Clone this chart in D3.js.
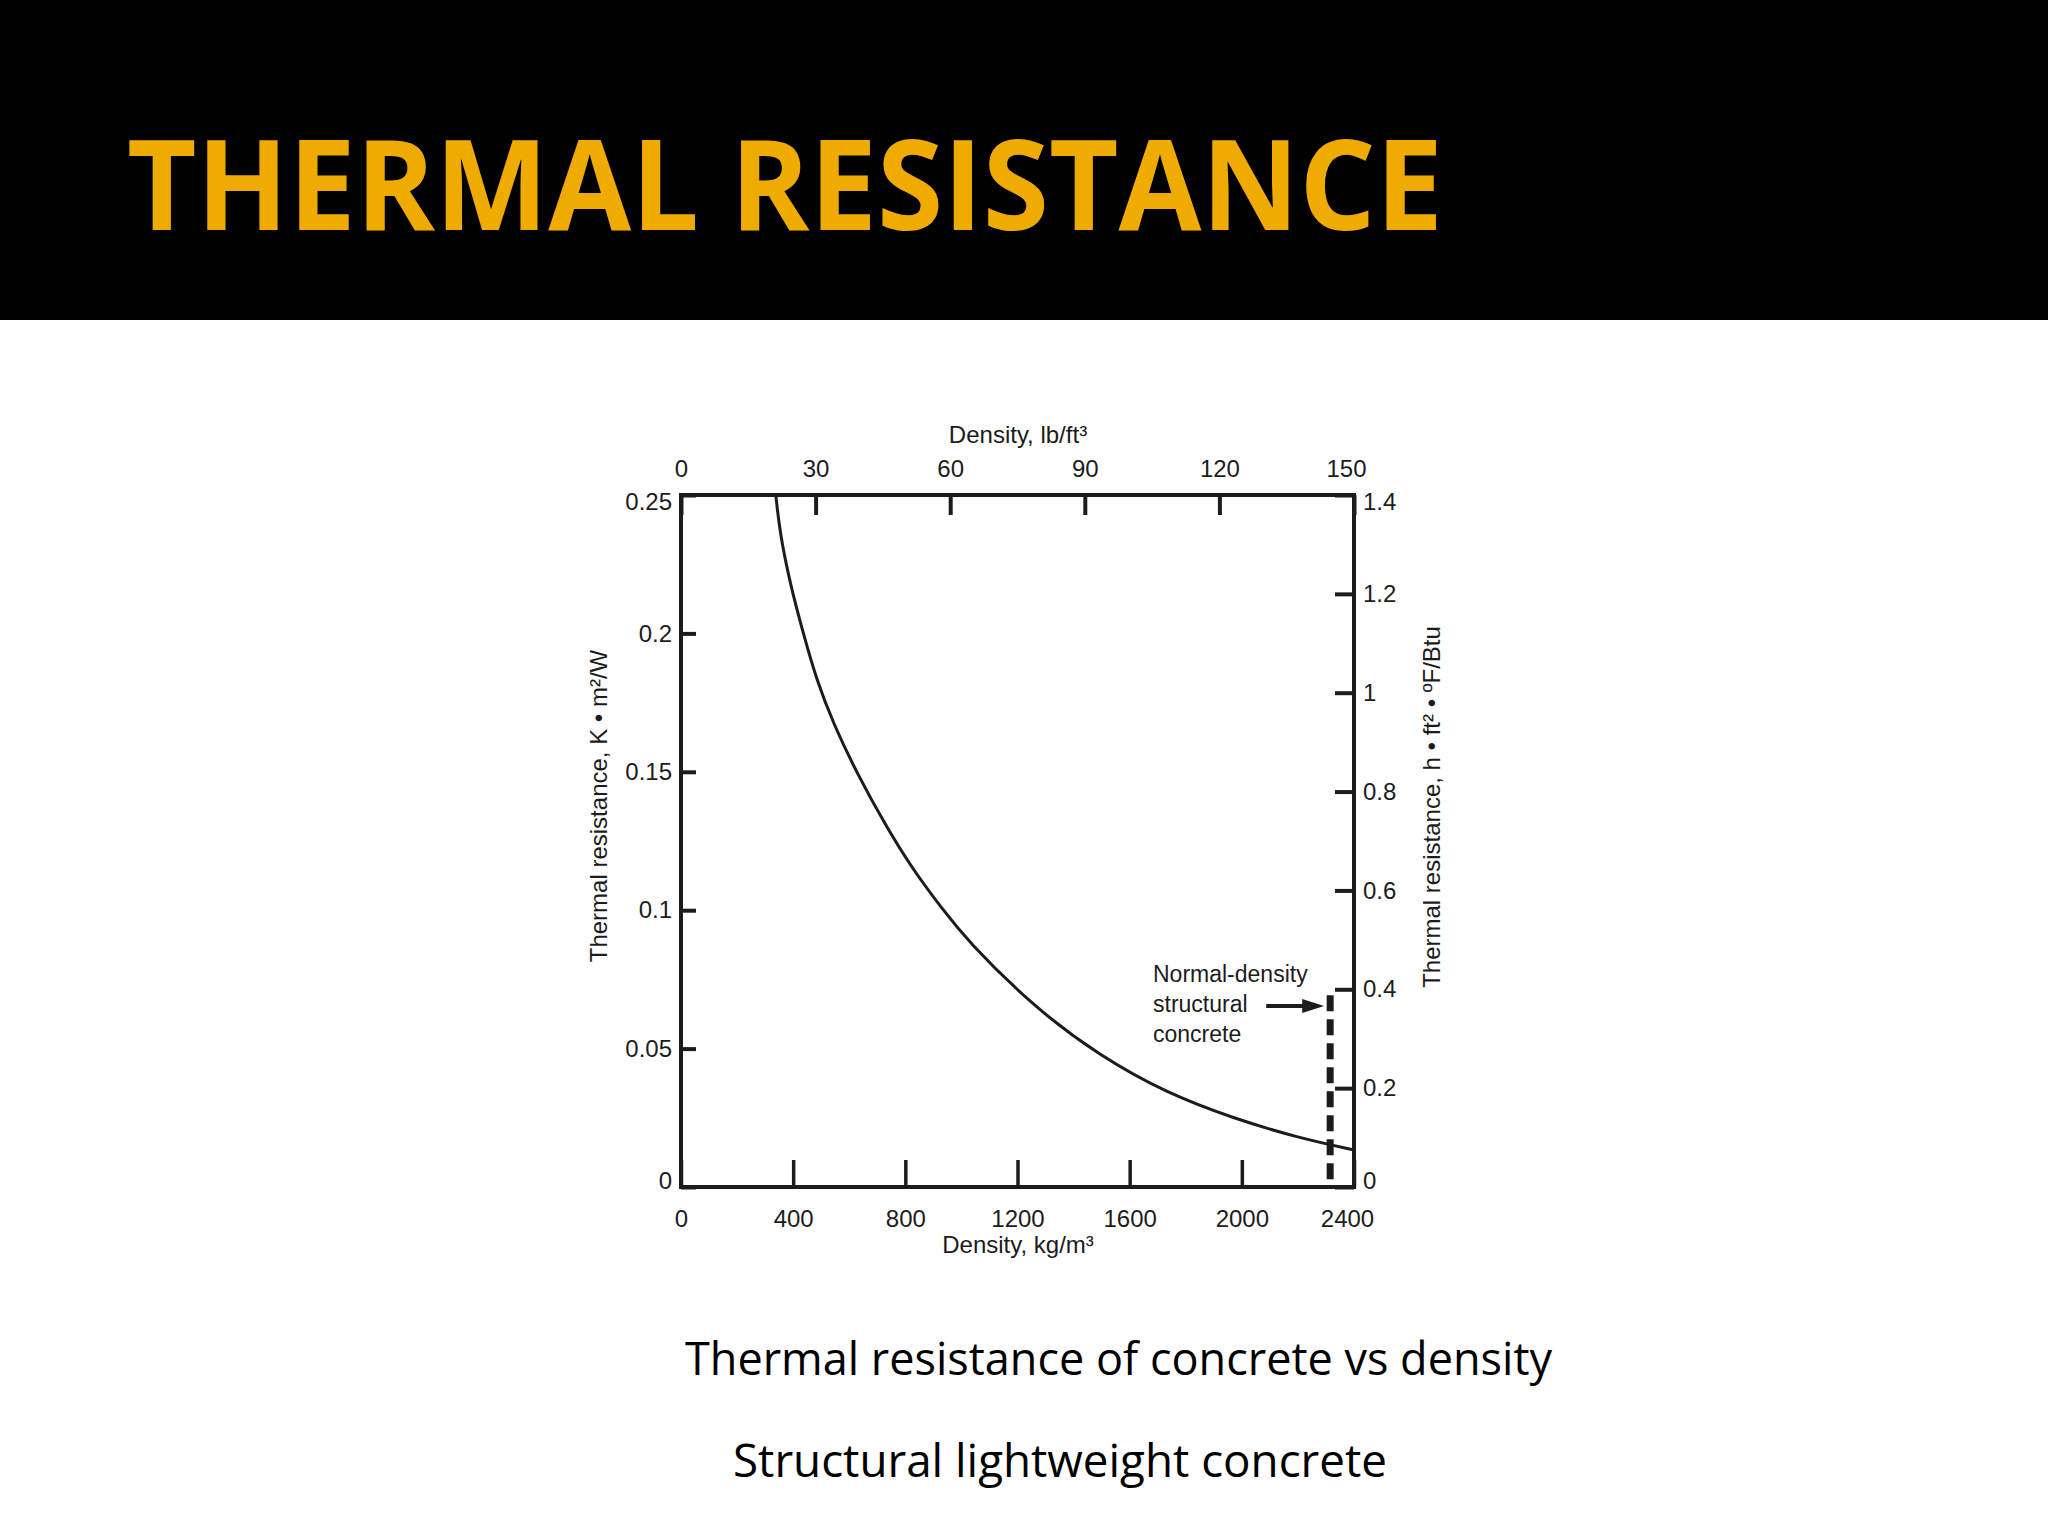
<!DOCTYPE html>
<html>
<head>
<meta charset="utf-8">
<script src="https://cdn.jsdelivr.net/npm/d3@7"></script>
<style>
  body { margin: 0; background: #fff; }
  svg { display: block; }
</style>
</head>
<body>
<div id="chart"></div>
<script>
// curve: density (kg/m3) vs thermal resistance (K m2/W)
var density = [338, 353, 389, 436, 484, 543, 627, 733, 828, 930, 1019, 1257, 1494, 1732, 1970, 2207, 2400];
var resistance = [0.25, 0.236, 0.218, 0.200, 0.183, 0.1675, 0.1495, 0.130, 0.1145, 0.1007, 0.0892, 0.0651, 0.0473, 0.0339, 0.0248, 0.0176, 0.0134];

var kgTicks = [0, 400, 800, 1200, 1600, 2000, 2400];
var lbTicks = [0, 30, 60, 90, 120, 150];
var siTicks = [0, 0.05, 0.1, 0.15, 0.2, 0.25];
var ipTicks = [0, 0.2, 0.4, 0.6, 0.8, 1, 1.2, 1.4];

// normal-density structural concrete marker
var normalDensity = 2315;   // kg/m3
var normalTop = 0.388;      // right axis units
var arrowLevel = 0.366;     // right axis units
var noteLines = ["Normal-density", "structural", "concrete"];

var W = 2048, H = 1536;
var margin = {left: 681, right: W - 1354, top: 495, bottom: H - 1187};

var svg = d3.select("#chart").append("svg")
    .attr("width", W)
    .attr("height", H);

svg.append("rect").attr("width", W).attr("height", H).attr("fill", "#fff");

// header band
svg.append("rect")
    .attr("x", 0).attr("y", 0)
    .attr("width", W).attr("height", 320)
    .attr("fill", "#000");

svg.append("text")
    .attr("x", 127).attr("y", 230)
    .attr("font-family", "'Open Sans', sans-serif")
    .attr("font-weight", "bold")
    .attr("font-size", 125)
    .attr("fill", "#f0ab00")
    .attr("textLength", 1316)
    .attr("lengthAdjust", "spacingAndGlyphs")
    .text("THERMAL RESISTANCE");

var x = d3.scaleLinear().domain([0, 2400]).range([margin.left, W - margin.right]);
var xTop = d3.scaleLinear().domain([0, 150]).range([margin.left, W - margin.right]);
var y = d3.scaleLinear().domain([0, 0.25]).range([H - margin.bottom, margin.top]);
var yRight = d3.scaleLinear().domain([0, 1.4]).range([H - margin.bottom, margin.top]);

var ink = "#1c1c1c";
var font = "'Liberation Sans', Arial, sans-serif";

function styleAxis(g, tickWidth) {
    g.select(".domain").remove();
    g.selectAll(".tick line").attr("stroke", ink).attr("stroke-width", tickWidth);
    g.selectAll(".tick text")
        .attr("fill", ink)
        .style("font-family", font)
        .style("font-size", "24px");
}

var fmt = function(d){ return String(d); };

svg.append("g")
    .attr("transform", "translate(0," + y(0) + ")")
    .call(d3.axisBottom(x).tickValues(kgTicks).tickSizeInner(-27).tickSizeOuter(0).tickPadding(23).tickFormat(fmt))
    .call(function(g){
        styleAxis(g, 3.5);
        g.selectAll(".tick text").filter(function(d){ return d === 2400; }).attr("dx", -7);
    });

svg.append("g")
    .attr("transform", "translate(0," + y(0.25) + ")")
    .call(d3.axisTop(xTop).tickValues(lbTicks).tickSizeInner(-20).tickSizeOuter(0).tickPadding(18).tickFormat(fmt))
    .call(function(g){
        styleAxis(g, 4);
        g.selectAll(".tick text").filter(function(d){ return d === 150; }).attr("dx", -8);
    });

svg.append("g")
    .attr("transform", "translate(" + x(0) + ",0)")
    .call(d3.axisLeft(y).tickValues(siTicks).tickSizeInner(-15).tickSizeOuter(0).tickPadding(9).tickFormat(fmt))
    .call(function(g){
        styleAxis(g, 4);
        g.selectAll(".tick text").filter(function(d){ return d === 0.25; }).attr("dy", "0.6em");
        g.selectAll(".tick text").filter(function(d){ return d === 0; }).attr("dy", "0.05em");
    });

svg.append("g")
    .attr("transform", "translate(" + x(2400) + ",0)")
    .call(d3.axisRight(yRight).tickValues(ipTicks).tickSizeInner(-19).tickSizeOuter(0).tickPadding(9).tickFormat(fmt))
    .call(function(g){
        styleAxis(g, 4);
        g.selectAll(".tick text").filter(function(d){ return d === 1.4; }).attr("dy", "0.6em");
        g.selectAll(".tick text").filter(function(d){ return d === 0; }).attr("dy", "0.05em");
    });

// frame
svg.append("rect")
    .attr("x", x(0)).attr("y", y(0.25))
    .attr("width", x(2400) - x(0))
    .attr("height", y(0) - y(0.25))
    .attr("fill", "none")
    .attr("stroke", ink)
    .attr("stroke-width", 4);

// axis titles
svg.append("text")
    .attr("x", 1018).attr("y", 443)
    .attr("text-anchor", "middle")
    .attr("font-family", font).attr("font-size", 24).attr("fill", ink)
    .text("Density, lb/ft³");

svg.append("text")
    .attr("x", 1018).attr("y", 1253)
    .attr("text-anchor", "middle")
    .attr("font-family", font).attr("font-size", 24).attr("fill", ink)
    .text("Density, kg/m³");

svg.append("text")
    .attr("transform", "translate(607,806) rotate(-90)")
    .attr("text-anchor", "middle")
    .attr("font-family", font).attr("font-size", 24).attr("fill", ink)
    .text("Thermal resistance, K • m²/W");

svg.append("text")
    .attr("transform", "translate(1440,807) rotate(-90)")
    .attr("text-anchor", "middle")
    .attr("font-family", font).attr("font-size", 24).attr("fill", ink)
    .text("Thermal resistance, h • ft² • ºF/Btu");

// curve
var pts = density.map(function(d, i){ return [d, resistance[i]]; });
var line = d3.line()
    .x(function(d){ return x(d[0]); })
    .y(function(d){ return y(d[1]); })
    .curve(d3.curveBasis);

svg.append("path")
    .datum(pts)
    .attr("d", line)
    .attr("fill", "none")
    .attr("stroke", ink)
    .attr("stroke-width", 3);

// dashed marker
svg.append("line")
    .attr("x1", x(normalDensity)).attr("x2", x(normalDensity))
    .attr("y1", yRight(normalTop)).attr("y2", yRight(0))
    .attr("stroke", ink)
    .attr("stroke-width", 7)
    .attr("stroke-dasharray", "16,8");

// arrow
var tipX = x(normalDensity) - 6, tipY = yRight(arrowLevel);
svg.append("line")
    .attr("x1", tipX - 58).attr("x2", tipX - 18)
    .attr("y1", tipY).attr("y2", tipY)
    .attr("stroke", ink).attr("stroke-width", 4);
svg.append("path")
    .attr("d", "M" + tipX + "," + tipY + "L" + (tipX - 22) + "," + (tipY - 7) + "L" + (tipX - 22) + "," + (tipY + 7) + "Z")
    .attr("fill", ink);

svg.append("g").selectAll("text")
    .data(noteLines)
    .enter().append("text")
    .attr("x", 1153)
    .attr("y", function(d, i){ return 982 + i * 30; })
    .attr("font-family", font).attr("font-size", 23).attr("fill", ink)
    .text(function(d){ return d; });

// captions
svg.append("text")
    .attr("x", 685).attr("y", 1375)
    .attr("font-family", "'Open Sans', sans-serif")
    .attr("font-size", 46).attr("fill", "#000")
    .attr("textLength", 867)
    .attr("lengthAdjust", "spacingAndGlyphs")
    .text("Thermal resistance of concrete vs density");

svg.append("text")
    .attr("x", 733).attr("y", 1477)
    .attr("font-family", "'Open Sans', sans-serif")
    .attr("font-size", 46).attr("fill", "#000")
    .attr("textLength", 654)
    .attr("lengthAdjust", "spacingAndGlyphs")
    .text("Structural lightweight concrete");
</script>
</body>
</html>
